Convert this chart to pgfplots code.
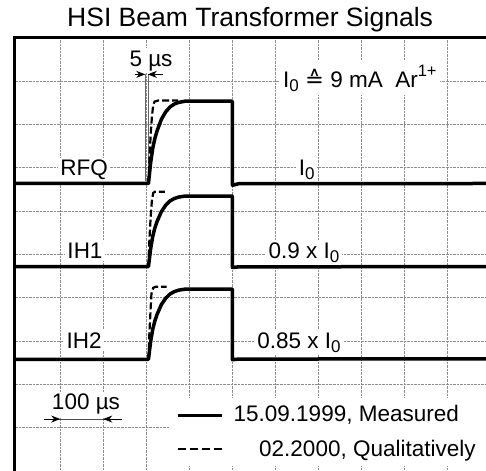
\documentclass[border=0pt]{standalone}
\usepackage{pgfplots}
\pgfplotsset{compat=1.18}
\usepackage{fontspec}
\setmainfont{Liberation Sans}
\newfontfamily\dejavu{DejaVu Sans}
\usetikzlibrary{arrows.meta}
\newcommand\lab{\fontsize{22.5bp}{26bp}\selectfont}
\newcommand\sub[1]{\raisebox{-4bp}{\fontsize{17bp}{17bp}\selectfont #1}}
\newcommand\sups[1]{\raisebox{11bp}{\fontsize{16.5bp}{16.5bp}\selectfont #1}}
\begin{document}
\begin{tikzpicture}
\begin{axis}[
 scale only axis, width=471.3bp, height=433bp,
 xmin=-0.057, xmax=10.89, ymin=0, ymax=10,
 axis x line*=top, axis y line*=left,
 axis line style={line width=3bp, line cap=rect},
 xtick={1,...,10}, ytick={1,...,9},
 xticklabels={}, yticklabels={},
 major tick length=0pt,
 grid=major,
 grid style={densely dotted, line width=0.8bp, black!45},
 clip mode=individual,
]
% white legend area
\fill[white] (axis cs:3.55,0.115) rectangle (axis cs:11,1.686);
% title
\node[font=\fontsize{26.5bp}{30bp}\selectfont, anchor=base] at (axis cs:5.41,10.277) {HSI Beam Transformer Signals};
% labels
\node[font=\lab, fill=white, inner sep=2.5bp, anchor=base] at (axis cs:1.553,6.813) {RFQ};
\node[font=\lab, fill=white, inner sep=2.5bp, anchor=base] at (axis cs:6.726,6.813) {I\sub{0}};
\node[font=\lab, fill=white, inner sep=2.5bp, anchor=base] at (axis cs:1.576,4.912) {IH1};
\node[font=\lab, fill=white, inner sep=2.5bp, anchor=base] at (axis cs:6.663,4.912) {0.9 x I\sub{0}};
\node[font=\lab, fill=white, inner sep=2.5bp, anchor=base] at (axis cs:1.553,2.834) {IH2};
\node[font=\lab, fill=white, inner sep=2.5bp, anchor=base] at (axis cs:6.547,2.834) {0.85 x I\sub{0}};
\node[font=\lab, fill=white, inner xsep=3bp, inner ysep=4bp, anchor=base west] at (axis cs:6.106,8.861) {I\sub{0} {\dejavu ≙} 9 mA\ \ Ar\sups{1+}};
\node[font=\lab, fill=white, inner sep=2.5bp, anchor=base] at (axis cs:3.109,9.353) {5 µs};
\node[font=\lab, fill=white, inner sep=2.5bp, anchor=base] at (axis cs:1.599,1.409) {100 µs};
\node[font=\lab, anchor=base west, inner sep=3bp] at (axis cs:4.955,1.139) {15.09.1999, Measured};
\node[font=\lab, anchor=base west, inner sep=3bp] at (axis cs:5.548,0.346) {02.2000, Qualitatively};
% 5 us annotation
\draw[black!60, line width=0.6bp] (axis cs:2.975,9.16) -- (axis cs:2.975,6.7);
\draw[black!60, line width=0.6bp] (axis cs:3.035,9.16) -- (axis cs:3.035,6.7);
\draw[line width=0.8bp, -{Stealth[length=9bp,width=7bp]}] (axis cs:2.74,9.16) -- (axis cs:2.975,9.16);
\draw[line width=0.8bp, -{Stealth[length=9bp,width=7bp]}] (axis cs:3.395,9.16) -- (axis cs:3.035,9.16);
% 100 us annotation
\draw[black!70, line width=0.8bp] (axis cs:0.623,1.20) -- (axis cs:2.43,1.20);
\draw[line width=0.8bp, -{Stealth[length=9bp,width=7bp]}] (axis cs:0.623,1.20) -- (axis cs:1.0,1.20);
\draw[line width=0.8bp, -{Stealth[length=9bp,width=7bp]}] (axis cs:2.43,1.20) -- (axis cs:2.0,1.20);
% RFQ
\addplot[black, line width=3.5bp, line join=round] coordinates {
(-0.2,6.64) (3.05,6.64) (3.10,7.115) (3.15,7.457) (3.20,7.685) (3.25,7.856) (3.35,8.122) (3.45,8.293) (3.55,8.407) (3.65,8.474) (3.75,8.512) (3.90,8.54) (5.00,8.54) (5.00,6.60) (5.05,6.61) (5.15,6.635) (11,6.64)};
\addplot[black, line width=2.2bp, dash pattern=on 7bp off 3bp] coordinates {
(3.05,6.64) (3.073,7.18) (3.10,7.75) (3.13,8.18) (3.16,8.45) (3.19,8.53) (3.28,8.557) (3.74,8.557)};
% IH1
\addplot[black, line width=3.5bp, line join=round] coordinates {
(-0.2,4.72) (3.05,4.72) (3.10,5.128) (3.15,5.421) (3.20,5.617) (3.25,5.763) (3.35,5.991) (3.45,6.138) (3.55,6.236) (3.65,6.293) (3.75,6.326) (3.90,6.35) (5.00,6.35) (5.00,4.70) (5.05,4.705) (5.15,4.715) (11,4.72)};
\addplot[black, line width=2.2bp, dash pattern=on 7bp off 3bp] coordinates {
(3.05,4.72) (3.07,5.3) (3.10,5.85) (3.13,6.25) (3.16,6.42) (3.20,6.45) (3.43,6.45)};
% IH2
\addplot[black, line width=3.5bp, line join=round] coordinates {
(-0.2,2.58) (3.05,2.58) (3.10,2.985) (3.15,3.277) (3.20,3.471) (3.25,3.617) (3.35,3.844) (3.45,3.989) (3.55,4.087) (3.65,4.143) (3.75,4.176) (3.90,4.20) (5.00,4.20) (5.00,2.57) (5.05,2.575) (5.15,2.585) (11,2.59)};
\addplot[black, line width=2.2bp, dash pattern=on 7bp off 3bp] coordinates {
(3.05,2.58) (3.07,3.15) (3.10,3.75) (3.12,4.1) (3.16,4.23) (3.22,4.256) (3.47,4.256)};
% legend samples
\addplot[black, line width=3bp] coordinates {(3.73,1.277) (4.75,1.277)};
\addplot[black, line width=2.5bp, dash pattern=on 8bp off 4bp] coordinates {(3.73,0.508) (4.75,0.508)};
\coordinate (BL) at (rel axis cs:0,0);
\coordinate (TR) at (rel axis cs:1,1);
\end{axis}
\pgfresetboundingbox
\path ([xshift=-14.7bp]BL) rectangle ([yshift=38bp]TR);
\end{tikzpicture}
\end{document}
